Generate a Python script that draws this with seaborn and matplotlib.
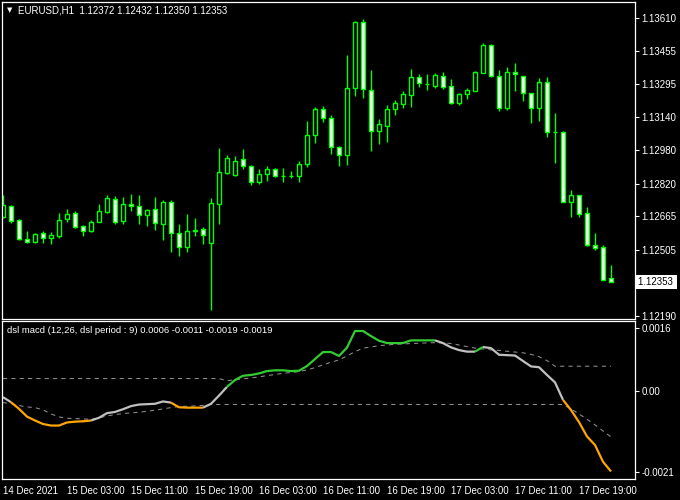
import matplotlib
matplotlib.use("Agg")
import matplotlib.pyplot as plt
import matplotlib.transforms as mtransforms
import numpy as np
import pandas as pd
import seaborn as sns

# ---------------- data ----------------
opens = [1.12661, 1.12715, 1.12648, 1.12556, 1.12542, 1.12584, 1.12561, 1.12573, 1.12651, 1.12680,
         1.12618, 1.12594, 1.12637, 1.12688, 1.12750, 1.12642, 1.12723, 1.12713, 1.12670, 1.12699,
         1.12627, 1.12732, 1.12585, 1.12518, 1.12597, 1.12604, 1.12537, 1.12723, 1.12874, 1.12861,
         1.12937, 1.12904, 1.12828, 1.12866, 1.12890, 1.12859, 1.12857, 1.12856, 1.12914, 1.13052,
         1.13176, 1.13133, 1.12995, 1.12957, 1.13279, 1.13591, 1.13267, 1.13071, 1.13098, 1.13176,
         1.13203, 1.13243, 1.13329, 1.13297, 1.13289, 1.13333, 1.13286, 1.13207, 1.13247, 1.13265,
         1.13351, 1.13483, 1.13333, 1.13181, 1.13352, 1.13333, 1.13252, 1.13181, 1.13305, 1.13069,
         1.13066, 1.12735, 1.12766, 1.12680, 1.12527, 1.12518, 1.12372]
highs = [1.12767, 1.12718, 1.12653, 1.12595, 1.12585, 1.12597, 1.12589, 1.12683, 1.12700, 1.12691,
         1.12623, 1.12648, 1.12724, 1.12767, 1.12762, 1.12756, 1.12772, 1.12767, 1.12699, 1.12758,
         1.12743, 1.12742, 1.12627, 1.12675, 1.12656, 1.12613, 1.12751, 1.12991, 1.12957, 1.12952,
         1.12985, 1.12909, 1.12890, 1.12904, 1.12895, 1.12895, 1.12880, 1.12928, 1.13119, 1.13185,
         1.13190, 1.13147, 1.13002, 1.13435, 1.13597, 1.13607, 1.13363, 1.13130, 1.13196, 1.13220,
         1.13263, 1.13368, 1.13343, 1.13344, 1.13349, 1.13354, 1.13320, 1.13255, 1.13276, 1.13359,
         1.13492, 1.13487, 1.13363, 1.13378, 1.13397, 1.13335, 1.13254, 1.13324, 1.13329, 1.13158,
         1.13071, 1.12791, 1.12768, 1.12710, 1.12586, 1.12529, 1.12432]
lows = [1.12657, 1.12635, 1.12553, 1.12538, 1.12540, 1.12540, 1.12533, 1.12563, 1.12640, 1.12611,
        1.12573, 1.12593, 1.12636, 1.12683, 1.12627, 1.12630, 1.12692, 1.12627, 1.12621, 1.12602,
        1.12554, 1.12497, 1.12478, 1.12497, 1.12573, 1.12535, 1.12217, 1.12630, 1.12869, 1.12859,
        1.12893, 1.12813, 1.12818, 1.12835, 1.12852, 1.12831, 1.12847, 1.12831, 1.12899, 1.13014,
        1.13114, 1.12961, 1.12904, 1.12912, 1.13241, 1.13231, 1.12978, 1.13012, 1.13021, 1.13150,
        1.13184, 1.13188, 1.13284, 1.13268, 1.13279, 1.13271, 1.13201, 1.13196, 1.13225, 1.13264,
        1.13350, 1.13330, 1.13168, 1.13173, 1.13263, 1.13217, 1.13112, 1.13122, 1.13045, 1.12921,
        1.12733, 1.12664, 1.12664, 1.12525, 1.12506, 1.12362, 1.12350]
closes = [1.12719, 1.12645, 1.12556, 1.12542, 1.12580, 1.12561, 1.12575, 1.12648, 1.12675, 1.12616,
          1.12594, 1.12637, 1.12689, 1.12751, 1.12637, 1.12723, 1.12713, 1.12670, 1.12694, 1.12632,
          1.12732, 1.12585, 1.12518, 1.12594, 1.12599, 1.12575, 1.12728, 1.12875, 1.12942, 1.12928,
          1.12904, 1.12828, 1.12866, 1.12890, 1.12856, 1.12857, 1.12859, 1.12914, 1.13052, 1.13176,
          1.13133, 1.12995, 1.12957, 1.13276, 1.13591, 1.13271, 1.13071, 1.13104, 1.13177, 1.13206,
          1.13249, 1.13330, 1.13303, 1.13295, 1.13338, 1.13284, 1.13207, 1.13247, 1.13267, 1.13352,
          1.13483, 1.13336, 1.13181, 1.13352, 1.13343, 1.13252, 1.13181, 1.13305, 1.13069, 1.13067,
          1.12735, 1.12766, 1.12678, 1.12530, 1.12516, 1.12363, 1.12353]

# indicator values in units of 0.0001
macd_e4 = [-1.7, -3.0, -4.7, -6.7, -7.7, -8.6, -9.0, -9.0, -8.2, -8.0,
           -7.9, -7.7, -7.0, -5.8, -5.5, -4.8, -4.0, -3.6, -3.5, -3.4,
           -2.8, -3.1, -4.3, -4.4, -4.4, -4.4, -3.4, -1.3, 0.95, 2.7,
           3.8, 4.0, 4.4, 5.0, 5.2, 5.2, 5.0, 5.1, 6.3, 8.1,
           9.9, 9.9, 8.9, 11.05, 15.3, 15.3, 14.0, 12.8, 12.2, 12.2,
           12.2, 12.9, 12.9, 12.9, 12.9, 12.2, 11.1, 10.4, 10.0, 10.0,
           11.2, 10.9, 9.2, 9.1, 9.0, 7.6, 6.2, 6.0, 4.0, 2.1,
           -2.4, -5.0, -8.1, -11.8, -14.0, -18.3, -20.8]
level_up_e4 = [3.08, 3.08, 3.08, 3.08, 3.08, 3.08, 3.08, 3.08, 3.08, 3.08,
               3.08, 3.08, 3.08, 3.08, 3.08, 3.08, 3.08, 3.08, 3.08, 3.08,
               3.08, 3.08, 3.08, 3.08, 3.08, 3.08, 3.08, 3.08, 2.5, 2.8,
               3.0, 3.24, 3.5, 3.86, 4.1, 4.45, 4.62, 4.88, 5.3, 5.9,
               6.6, 7.27, 7.87, 8.9, 10.0, 10.9, 11.2, 11.55, 11.7, 11.9,
               11.95, 12.1, 12.15, 12.25, 12.3, 12.25, 12.1, 11.7, 11.3, 10.9,
               10.7, 10.45, 10.3, 10.1, 9.9, 9.7, 9.3, 8.7, 7.7, 6.25,
               6.25, 6.25, 6.25, 6.25, 6.25, 6.25, 6.25]
level_dn_e4 = [-3.09, -3.35, -3.86, -4.21, -4.38, -4.98, -6.01, -6.78, -7.12, -7.21,
               -7.29, -7.38, -7.04, -6.52, -6.18, -5.92, -5.75, -5.58, -5.32, -5.06,
               -4.72, -4.38, -4.12, -4.04, -3.95, -3.8, -3.58, -3.58, -3.58, -3.58,
               -3.58, -3.58, -3.58, -3.58, -3.58, -3.58, -3.58, -3.58, -3.58, -3.58,
               -3.58, -3.58, -3.58, -3.58, -3.58, -3.58, -3.58, -3.58, -3.58, -3.58,
               -3.58, -3.58, -3.58, -3.58, -3.58, -3.58, -3.58, -3.58, -3.58, -3.58,
               -3.58, -3.58, -3.58, -3.58, -3.58, -3.58, -3.58, -3.58, -3.58, -3.58,
               -3.58, -4.72, -6.01, -7.38, -8.83, -10.38, -11.92]
# colour state of the macd segment ending at each bar: n = neutral, g = up, o = down
macd_state = "".join(["nn", "oooooooooo", "nnnnnnnnnn", "oooo", "nnn",
                      "gggggggggggggggggggggggggg", "nnnnn", "g", "nnnnnnnnnn", "oooooo"])

time_label_bars = [0, 8, 16, 24, 32, 40, 48, 56, 64, 72]
time_labels = ["14 Dec 2021", "15 Dec 03:00", "15 Dec 11:00", "15 Dec 19:00", "16 Dec 03:00",
               "16 Dec 11:00", "16 Dec 19:00", "17 Dec 03:00", "17 Dec 11:00", "17 Dec 19:00"]
price_ticks = [1.13610, 1.13455, 1.13295, 1.13140, 1.12980, 1.12820, 1.12665, 1.12505, 1.12190]
ind_ticks = [0.0016, 0.0, -0.0021]
ind_tick_labels = ["0.0016", "0.00", "-0.0021"]
symbol_text = "EURUSD,H1  1.12372 1.12432 1.12350 1.12353"
ind_text = "dsl macd (12,26, dsl period : 9) 0.0006 -0.0011 -0.0019 -0.0019"
current_price = 1.12353

# ---------------- style ----------------
sns.set_style("dark")
plt.rcParams["font.family"] = ["Liberation Sans", "DejaVu Sans"]
plt.rcParams["font.size"] = 7
plt.rcParams["axes.facecolor"] = "black"
plt.rcParams["figure.facecolor"] = "black"

W, H = 680, 500
fig = plt.figure(figsize=(6.8, 5.0), dpi=100)
fig.patch.set_facecolor("black")

x_left_px, x_right_px = 2.3, 634.7
ax1 = fig.add_axes([x_left_px / W, (H - 319) / H, (x_right_px - x_left_px) / W, (319 - 2.3) / H])
ax2 = fig.add_axes([x_left_px / W, (H - 478.7) / H, (x_right_px - x_left_px) / W, (478.7 - 321.3) / H])

n = len(opens)
bars = np.arange(n)
df = pd.DataFrame({"bar": bars, "open": opens, "high": highs, "low": lows, "close": closes,
                   "macd": np.array(macd_e4) * 1e-4,
                   "up": np.array(level_up_e4) * 1e-4,
                   "dn": np.array(level_dn_e4) * 1e-4,
                   "state": list(macd_state)})

CANDLE = "#00FF00"
# ---------------- candles ----------------
ax1.vlines(df["bar"], df["low"], df["high"], color=CANDLE, linewidth=1.0, zorder=1)
bull = df["close"] >= df["open"]
body_h = (df["close"] - df["open"]).abs().clip(lower=0.000005)
body_b = df[["open", "close"]].min(axis=1)
fills = np.where(bull, "black", "white")
ax1.bar(df["bar"], body_h, bottom=body_b, width=0.54, color=fills,
        edgecolor=CANDLE, linewidth=1.0, zorder=2)

xmin = (x_left_px - 3) / 8.0
xmax = (x_right_px - 3) / 8.0
ax1.set_xlim(xmin, xmax)
ax1.set_ylim(1.121757, 1.136863)

# ---------------- indicator ----------------
dash = (0, (4.0, 4.0))
sns.lineplot(x=df["bar"], y=df["up"], ax=ax2, color="#909090", linewidth=0.75,
             linestyle=dash, legend=False)
sns.lineplot(x=df["bar"], y=df["dn"], ax=ax2, color="#909090", linewidth=0.75,
             linestyle=dash, legend=False)

colors = {"n": "#C0C0C0", "g": "#32CD32", "o": "#FFA500"}
i = 1
while i < n:
    s = macd_state[i]
    j = i
    while j + 1 < n and macd_state[j + 1] == s:
        j += 1
    seg = df.iloc[i - 1:j + 1]
    sns.lineplot(x=seg["bar"], y=seg["macd"], ax=ax2, color=colors[s], linewidth=1.6,
                 legend=False, solid_capstyle="butt")
    i = j + 1

ax2.set_xlim(xmin, xmax)
ax2.set_ylim(-22.66e-4, 17.8e-4)

# ---------------- axes decoration ----------------
for ax in (ax1, ax2):
    ax.set_facecolor("black")
    ax.grid(False)
    ax.set_xlabel("")
    ax.set_ylabel("")
    for sp in ax.spines.values():
        sp.set_visible(True)
        sp.set_color("white")
        sp.set_linewidth(0.9)
    ax.yaxis.tick_right()
    ax.tick_params(axis="y", which="both", direction="out", length=3, width=0.8,
                   color="white", labelcolor="white", labelsize=7, pad=2,
                   left=False, right=True, labelleft=False, labelright=True)

ax1.set_yticks(price_ticks)
ax1.set_yticklabels([f"{p:.5f}" for p in price_ticks])
ax1.tick_params(axis="x", bottom=False, labelbottom=False)

ax2.set_yticks(ind_ticks)
ax2.set_yticklabels(ind_tick_labels)
ax2.set_xticks(time_label_bars)
ax2.set_xticklabels(time_labels, ha="left")
ax2.tick_params(axis="x", direction="out", length=3, width=0.8, color="white",
                labelcolor="white", labelsize=7, pad=2)

# current price label
tr = mtransforms.blended_transform_factory(ax1.transAxes, ax1.transData)
ax1.plot([1.0, 1.0 + 4 / 632], [current_price, current_price], color="white",
         linewidth=0.8, transform=tr, clip_on=False)
ax1.text(1.0 + 3 / 632, current_price, "1.12353 ", transform=tr, ha="left", va="center",
         color="black", fontsize=7,
         bbox=dict(facecolor="white", edgecolor="none", pad=1.4), clip_on=False, zorder=5)

# header texts
fig.text(10 / W, 1 - 10.5 / H, "\u25BC", color="white", fontsize=5, ha="center", va="center",
         family=["DejaVu Sans"])
fig.text(18 / W, 1 - 10.7 / H, symbol_text, color="white", fontsize=7, ha="left", va="center")
fig.text(7 / W, 1 - 330.7 / H, ind_text, color="white", fontsize=6.8, ha="left", va="center")

fig.savefig("out.png", dpi=100, facecolor="black")
